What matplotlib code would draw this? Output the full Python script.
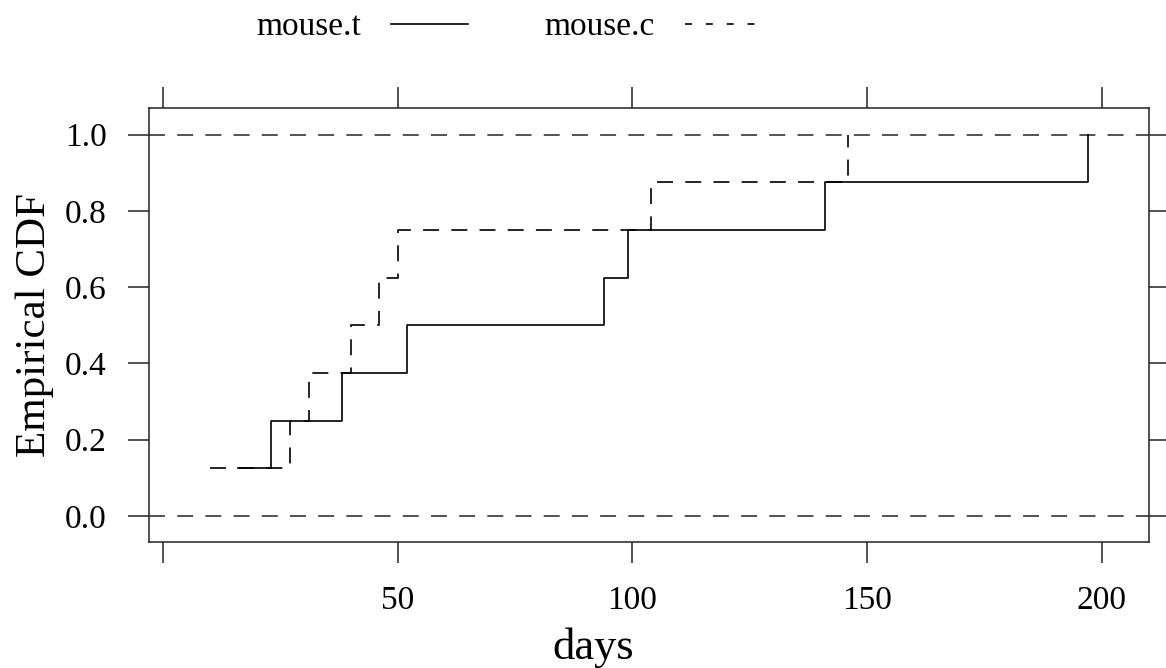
import numpy as np
import matplotlib

matplotlib.use("Agg")
import matplotlib.pyplot as plt  # noqa: E402
from matplotlib.lines import Line2D  # noqa: E402

# survival times (days) for the two groups
mouse_t = [16, 23, 38, 52, 94, 99, 141, 197]
mouse_c = [10, 27, 31, 40, 46, 50, 104, 146]
group_names = ["mouse.t", "mouse.c"]

x_ticks = [0, 50, 100, 150, 200]
x_tick_labels = ["", "50", "100", "150", "200"]
y_ticks = [0.0, 0.2, 0.4, 0.6, 0.8, 1.0]
y_tick_labels = ["0.0", "0.2", "0.4", "0.6", "0.8", "1.0"]

plt.rcParams["font.family"] = ["Liberation Serif", "DejaVu Serif"]
plt.rcParams["lines.scale_dashes"] = False

DASH = (11.5, 8.8)
FRAME = "#222222"

fig = plt.figure(figsize=(11.66, 6.68), dpi=100, facecolor="white")
ax = fig.add_axes([0.1274, 0.1879, 0.8584, 0.6504])


def ecdf(values):
    xs = np.sort(np.asarray(values, dtype=float))
    ys = np.arange(1, len(xs) + 1) / len(xs)
    return xs, ys


# reference lines at 0 and 1
for level in (0.0, 1.0):
    ax.axhline(level, color="#444444", lw=1.3, dashes=DASH, zorder=1)

xt, yt = ecdf(mouse_t)
xc, yc = ecdf(mouse_c)
ax.plot(xt, yt, drawstyle="steps-post", color="black", lw=1.2, zorder=3)
ax.plot(xc, yc, drawstyle="steps-post", color="black", lw=1.2,
        dashes=DASH, zorder=2)

ax.set_xlim(-3.15, 210.2)
ax.set_ylim(-0.07, 1.07)

ax.set_xticks(x_ticks)
ax.set_xticklabels(x_tick_labels)
ax.set_yticks(y_ticks)
ax.set_yticklabels(y_tick_labels)

ax.tick_params(axis="both", which="both", direction="out", length=15,
               width=1.1, color=FRAME, labelsize=24,
               top=True, right=True, labeltop=False, labelright=False)
ax.tick_params(axis="x", pad=16)
ax.tick_params(axis="y", pad=15)

for spine in ax.spines.values():
    spine.set_color(FRAME)
    spine.set_linewidth(1.1)

ax.set_xlabel("days", fontsize=32)
ax.xaxis.set_label_coords(0.444, -0.195)
ax.set_ylabel("Empirical CDF", fontsize=31, labelpad=8)

# key above the panel: label first, then line sample
handles = [
    Line2D([], [], color="black", lw=1.2),
    Line2D([], [], color="black", lw=1.2, dashes=(5, 10)),
]
fig.legend(handles, group_names, loc="center",
           bbox_to_anchor=(509 / 1166, 1 - 27 / 668), ncol=2,
           frameon=False, markerfirst=False, fontsize=24,
           handlelength=2.3, handletextpad=0.9, columnspacing=2.3)

fig.savefig("out.png", dpi=100, facecolor="white")
